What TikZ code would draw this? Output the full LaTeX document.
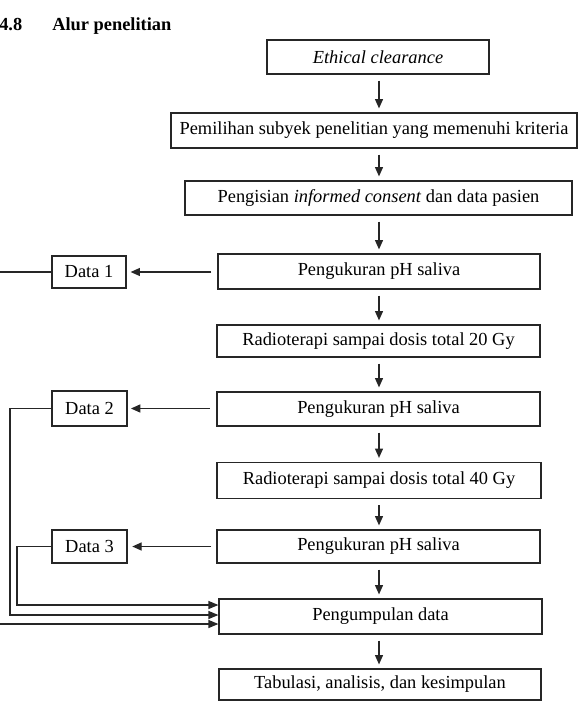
\documentclass[tikz,border=0pt]{standalone}
\usepackage{fontspec}
\setmainfont{Liberation Serif}
\usetikzlibrary{arrows.meta}
\begin{document}
\begin{tikzpicture}[x=0.75pt,y=-0.75pt,
  font=\fontsize{13.8}{16}\selectfont,
  box/.style={draw=black!85,line width=0.9pt,inner sep=0pt,align=center},
  arr/.style={draw=black!85,line width=0.9pt,-{Triangle[length=7pt,width=6pt]}},
  arrl/.style={draw=black!85,line width=0.9pt,-{Triangle[length=7.5pt,width=6pt]}}]
\useasboundingbox (0,0) rectangle (579,702);
\clip (0,0) rectangle (579,702);
% heading
\node[anchor=base west,inner sep=0pt,font=\fontsize{13.8}{16}\selectfont\bfseries] (hnum) at (-1,31) {4.8};
\node[anchor=base west,inner sep=0pt,font=\fontsize{13.8}{16}\selectfont\bfseries] (htitle) at (52,31) {Alur penelitian};
% main boxes
\node[box,minimum width=222*0.75pt,minimum height=34*0.75pt] (eth) at (378,57) {\textit{Ethical clearance}};
\node[box,minimum width=406*0.75pt,minimum height=35*0.75pt] (pem) at (374,130.5) {Pemilihan subyek penelitian yang memenuhi kriteria};
\node[box,minimum width=387*0.75pt,minimum height=34*0.75pt] (pen) at (378.5,198) {Pengisian \textit{informed consent} dan data pasien};
\node[box,minimum width=322*0.75pt,minimum height=35*0.75pt] (pk1) at (379,271.5) {Pengukuran pH saliva};
\node[box,minimum width=323*0.75pt,minimum height=32*0.75pt] (r20) at (378.5,341) {Radioterapi sampai dosis total 20 Gy};
\node[box,minimum width=323*0.75pt,minimum height=34*0.75pt] (pk2) at (378.5,409) {Pengukuran pH saliva};
\node[box,minimum width=324*0.75pt,minimum height=36*0.75pt] (r40) at (379,480.5) {Radioterapi sampai dosis total 40 Gy};
\node[box,minimum width=323*0.75pt,minimum height=33*0.75pt] (pk3) at (378.5,546.5) {Pengukuran pH saliva};
\node[box,minimum width=323*0.75pt,minimum height=35*0.75pt] (pkd) at (380.5,616.5) {Pengumpulan data};
\node[box,minimum width=322*0.75pt,minimum height=31*0.75pt] (tab) at (380,684.5) {Tabulasi, analisis, dan kesimpulan};
% data boxes
\node[box,minimum width=74*0.75pt,minimum height=32*0.75pt] (d1) at (89,272) {Data 1};
\node[box,minimum width=75*0.75pt,minimum height=35*0.75pt] (d2) at (89.5,408.5) {Data 2};
\node[box,minimum width=75*0.75pt,minimum height=33*0.75pt] (d3) at (89.5,546.5) {Data 3};
% vertical arrows
\coordinate (ax) at (379,0);
\foreach \a/\b in {eth/pem,pem/pen,pen/pk1,pk1/r20,r20/pk2,pk2/r40,r40/pk3,pk3/pkd,pkd/tab}{
  \draw[arr,shorten <=4.5pt,shorten >=3pt] (\a.south -| ax) -- (\b.north -| ax);
}
% horizontal arrows to data boxes
\draw[arr,shorten <=4.5pt,shorten >=3pt] (pk1.west |- d1) -- (d1.east);
\draw[arr,shorten <=5pt,shorten >=2.5pt] (pk2.west |- d2) -- (d2.east);
\draw[arr,shorten <=4pt,shorten >=3.5pt] (pk3.west |- d3) -- (d3.east);
% return lines to Pengumpulan data
\coordinate (c1) at (-5,624);
\coordinate (c2) at (10,615);
\coordinate (c3) at (17,605);
\draw[arrl] (d1.west) -| (c1) -- (c1 -| pkd.west);
\draw[arrl] (d2.west) -| (c2) -- (c2 -| pkd.west);
\draw[arrl] (d3.west) -| (c3) -- (c3 -| pkd.west);
\end{tikzpicture}
\end{document}
